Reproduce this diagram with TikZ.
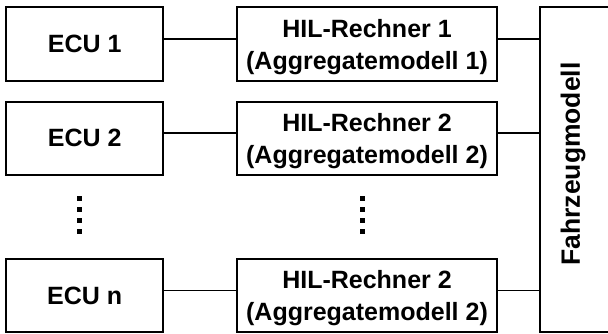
\documentclass[tikz,border=0pt]{standalone}
\usepackage{fontspec}
\setmainfont{Liberation Sans}
\begin{document}
\begin{tikzpicture}[x=1pt,y=-1pt,
  box/.style={draw,line width=1.9pt,inner sep=0pt,align=center,font=\bfseries\fontsize{25}{32}\selectfont},
  ecu/.style={box,minimum width=157pt,minimum height=73.5pt},
  hil/.style={box,minimum width=260.5pt,minimum height=73.5pt},
  conn/.style={line width=1.9pt},
  dot/.style={fill=black}]
\useasboundingbox (0,0) rectangle (608,333);
\node[ecu] (e1) at (84.7,44) {ECU 1};
\node[ecu] (e2) at (84.7,138.3) {ECU 2};
\node[ecu] (en) at (84.7,295.5) {ECU n};
\node[hil] (h1) at (367,44) {\rule{0pt}{24pt}HIL-Rechner 1\\(Aggregatemodell 1)};
\node[hil] (h2) at (367,138.3) {\rule{0pt}{24pt}HIL-Rechner 2\\(Aggregatemodell 2)};
\node[hil] (hn) at (367,295.5) {\rule{0pt}{24pt}HIL-Rechner 2\\(Aggregatemodell 2)};
\node[box,minimum width=72pt,minimum height=324.7pt] (F) at (576,169.6) {};
\node[font=\bfseries\fontsize{26.5}{32}\selectfont,rotate=90] (Ft) at (573,164) {Fahrzeugmodell};
\draw[conn] ([yshift=5pt]e1.east) -- ([yshift=5pt]h1.west);
\draw[conn] ([yshift=5pt]e2.east) -- ([yshift=5pt]h2.west);
\draw[conn] ([yshift=5pt]en.east) -- ([yshift=5pt]hn.west);
\draw[conn] ([yshift=5pt]h1.east) -- ([yshift=5pt]h1.east -| F.west);
\draw[conn] ([yshift=5pt]h2.east) -- ([yshift=5pt]h2.east -| F.west);
\draw[conn] ([yshift=5pt]hn.east) -- ([yshift=5pt]hn.east -| F.west);
\foreach \yy in {198,209,220,231} {
  \fill[dot] (77,\yy-2.5) rectangle (82,\yy+2.5);
  \fill[dot] (359.5,\yy-2.5) rectangle (364.5,\yy+2.5);
}
\end{tikzpicture}
\end{document}
